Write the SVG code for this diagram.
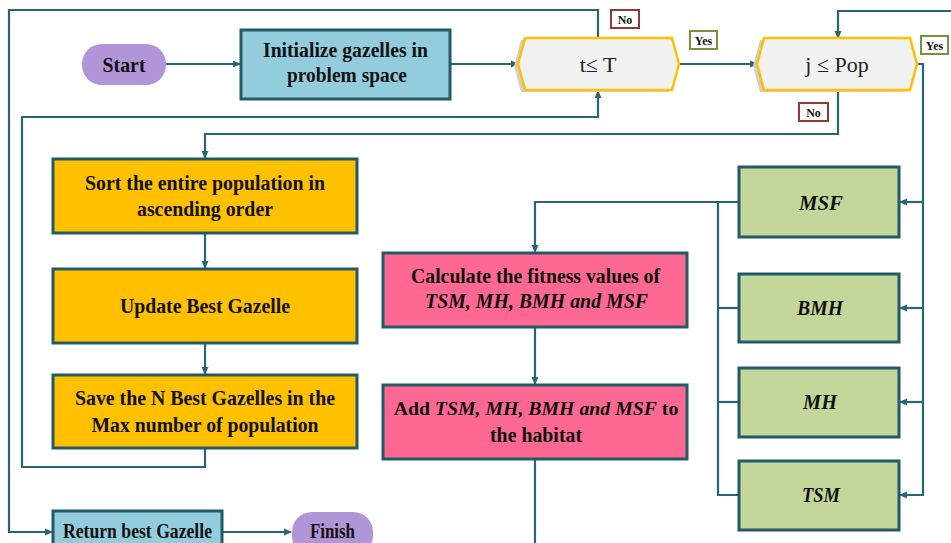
<svg xmlns="http://www.w3.org/2000/svg" width="951" height="543" viewBox="0 0 951 543">
<style>
.t{font-family:"Liberation Serif","Times New Roman",serif;font-weight:bold;font-size:22px;fill:#111;text-anchor:middle}
.i{font-style:italic}
.c{fill:none;stroke:#2a6478;stroke-width:2.2}
.box{stroke:#235a68;stroke-width:3}
.pill{fill:#b294d8}
.blue{fill:#93cddd}
.org{fill:#ffc000}
.pink{fill:#fd6893}
.grn{fill:#c4d79b}
.hex{fill:#f1f1f1;stroke:#ffc000;stroke-width:2.5}
.sh{fill:#cfcfcf}
.lbl{fill:#fff;stroke-width:2}
.lt{font-family:"Liberation Serif","Times New Roman",serif;font-weight:bold;font-size:12px;fill:#111;text-anchor:middle}
.d{font-family:"Liberation Serif","Times New Roman",serif;font-size:22px;fill:#222;text-anchor:middle}
</style>
<defs>
<marker id="ah" markerWidth="8" markerHeight="8" refX="7" refY="4" orient="auto" markerUnits="userSpaceOnUse">
<path d="M0,0.5 L8,4 L0,7.5 Z" fill="#2a6478"/>
</marker>
</defs>
<g id="connectors">
<path class="c" d="M166 64 H240" marker-end="url(#ah)"/>
<path class="c" d="M450 64 H518" marker-end="url(#ah)"/>
<path class="c" d="M679 64 H757" marker-end="url(#ah)"/>
<path class="c" d="M598 38 V10 H9 V532 H52" marker-end="url(#ah)"/>
<path class="c" d="M205 448 V467 H22 V117 H598 V91" marker-end="url(#ah)"/>
<path class="c" d="M951 11 H838 V38" marker-end="url(#ah)"/>
<path class="c" d="M838 90 V134 H205 V158" marker-end="url(#ah)"/>
<path class="c" d="M917 64 H923 V495 H900" marker-end="url(#ah)"/>
<path class="c" d="M923 202 H900" marker-end="url(#ah)"/>
<path class="c" d="M923 308 H900" marker-end="url(#ah)"/>
<path class="c" d="M923 402 H900" marker-end="url(#ah)"/>
<path class="c" d="M739 202 H535 V252" marker-end="url(#ah)"/>
<path class="c" d="M718 202 V495 H739"/>
<path class="c" d="M718 308 H739"/>
<path class="c" d="M718 402 H739"/>
<path class="c" d="M535 327 V384" marker-end="url(#ah)"/>
<path class="c" d="M535 459 V543"/>
<path class="c" d="M205 233 V268" marker-end="url(#ah)"/>
<path class="c" d="M205 343 V374" marker-end="url(#ah)"/>
<path class="c" d="M222 532 H291" marker-end="url(#ah)"/>
</g>
<g id="start">
<rect class="pill" x="82" y="44" width="84" height="41" rx="20"/>
<text class="t" x="124" y="72" textLength="43" lengthAdjust="spacingAndGlyphs">Start</text>
</g>
<g id="init">
<rect class="box blue" x="241" y="30" width="209" height="69"/>
<text class="t" x="345.5" y="57" textLength="165" lengthAdjust="spacingAndGlyphs">Initialize gazelles in</text>
<text class="t" x="347" y="82" textLength="120" lengthAdjust="spacingAndGlyphs">problem space</text>
</g>
<g id="cond-t">
<polygon class="sh" points="514,66 521,40 669,40 675,66 669,92 521,92"/>
<polygon class="hex" points="518,64 525,38 672,38 679,64 672,90 525,90"/>
<text class="d" x="598" y="72">t≤ T</text>
</g>
<g id="cond-j">
<polygon class="sh" points="753,66 760,40 906,40 913,66 906,92 760,92"/>
<polygon class="hex" points="757,64 764,38 910,38 917,64 910,90 764,90"/>
<text class="d" x="837" y="72">j ≤ Pop</text>
</g>
<g id="label-no-t">
<rect class="lbl" x="611" y="10" width="28" height="18" stroke="#953735"/>
<text class="lt" x="625" y="23.5">No</text>
</g>
<g id="label-yes-t">
<rect class="lbl" x="690" y="31" width="27" height="18" stroke="#77933c"/>
<text class="lt" x="703.5" y="44.5">Yes</text>
</g>
<g id="label-yes-j">
<rect class="lbl" x="921" y="36" width="27" height="18" stroke="#77933c"/>
<text class="lt" x="934.5" y="49.5">Yes</text>
</g>
<g id="label-no-j">
<rect class="lbl" x="799" y="103" width="29" height="18" stroke="#953735"/>
<text class="lt" x="813.5" y="116.5">No</text>
</g>
<g id="sort">
<rect class="box org" x="53" y="159" width="304" height="74"/>
<text class="t" x="205" y="190" textLength="240" lengthAdjust="spacingAndGlyphs">Sort the entire population in</text>
<text class="t" x="205" y="216" textLength="136" lengthAdjust="spacingAndGlyphs">ascending order</text>
</g>
<g id="update">
<rect class="box org" x="53" y="269" width="304" height="74"/>
<text class="t" x="205" y="313" textLength="170" lengthAdjust="spacingAndGlyphs">Update Best Gazelle</text>
</g>
<g id="save">
<rect class="box org" x="53" y="375" width="304" height="73"/>
<text class="t" x="205" y="405" textLength="260" lengthAdjust="spacingAndGlyphs">Save the N Best Gazelles in the</text>
<text class="t" x="205" y="432" textLength="227" lengthAdjust="spacingAndGlyphs">Max number of population</text>
</g>
<g id="return">
<rect class="box blue" x="53" y="511" width="169" height="44"/>
<text class="t" x="137.5" y="538" textLength="149" lengthAdjust="spacingAndGlyphs">Return best Gazelle</text>
</g>
<g id="finish">
<rect class="pill" x="292" y="512" width="81" height="44" rx="20"/>
<text class="t" x="332.5" y="538" textLength="45" lengthAdjust="spacingAndGlyphs">Finish</text>
</g>
<g id="calc">
<rect class="box pink" x="383" y="253" width="304" height="74"/>
<text class="t" x="535.5" y="283" textLength="249" lengthAdjust="spacingAndGlyphs">Calculate the fitness values of</text>
<text class="t i" x="536.5" y="308" textLength="223" lengthAdjust="spacingAndGlyphs">TSM, MH, BMH and MSF</text>
</g>
<g id="add">
<rect class="box pink" x="383" y="385" width="304" height="74"/>
<text class="t" x="536" y="415" style="font-size:19.8px">Add <tspan class="i">TSM, MH, BMH and MSF</tspan> to</text>
<text class="t" x="536" y="442" textLength="92" lengthAdjust="spacingAndGlyphs">the habitat</text>
</g>
<g id="msf">
<rect class="box grn" x="739" y="167" width="160" height="70"/>
<text class="t i" x="821" y="210" textLength="44" lengthAdjust="spacingAndGlyphs">MSF</text>
</g>
<g id="bmh">
<rect class="box grn" x="739" y="274" width="160" height="68"/>
<text class="t i" x="820" y="315" textLength="46" lengthAdjust="spacingAndGlyphs">BMH</text>
</g>
<g id="mh">
<rect class="box grn" x="739" y="368" width="160" height="69"/>
<text class="t i" x="820" y="409" textLength="34" lengthAdjust="spacingAndGlyphs">MH</text>
</g>
<g id="tsm">
<rect class="box grn" x="739" y="461" width="160" height="69"/>
<text class="t i" x="821" y="502" textLength="38" lengthAdjust="spacingAndGlyphs">TSM</text>
</g>
</svg>
